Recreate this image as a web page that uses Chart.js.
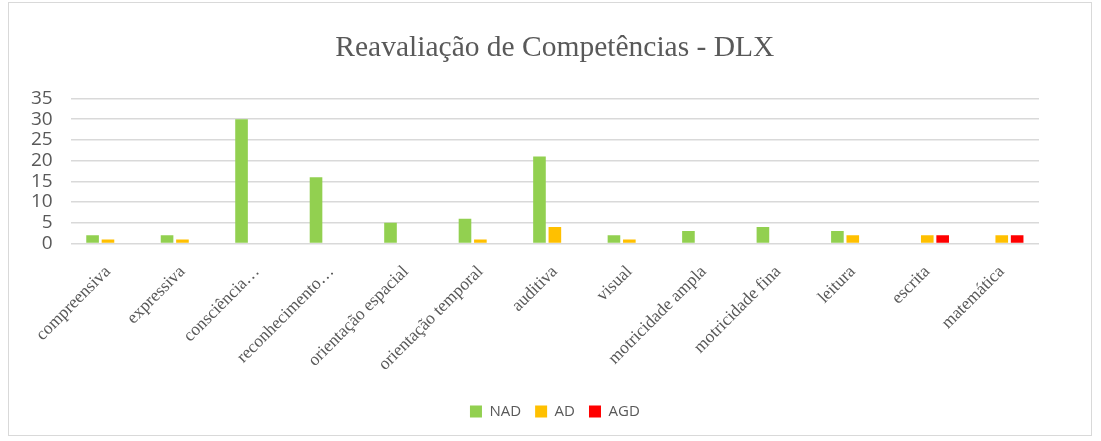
<!DOCTYPE html>
<html>
<head>
<meta charset="utf-8">
<script src="https://cdn.jsdelivr.net/npm/chart.js@4"></script>
<style>
  html, body { margin: 0; padding: 0; background: #fff; }
  #wrap { position: absolute; left: 8px; top: 2px; width: 1084px; height: 434px; border: 1px solid #d9d9d9; box-sizing: border-box; }
</style>
</head>
<body>
<div id="wrap"><canvas id="chart"></canvas></div>
<script>
const categories = ["compreensiva", "expressiva", "consciência…", "reconhecimento…", "orientação espacial",
  "orientação temporal", "auditiva", "visual", "motricidade ampla", "motricidade fina", "leitura", "escrita", "matemática"];
const nad = [2, 2, 30, 16, 5, 6, 21, 2, 3, 4, 3, 0, 0];
const ad  = [1, 1, 0, 0, 0, 1, 4, 1, 0, 0, 2, 2, 2];
const agd = [0, 0, 0, 0, 0, 0, 0, 0, 0, 0, 0, 2, 2];
const yTicks = [0, 5, 10, 15, 20, 25, 30, 35];

const ctx = document.getElementById('chart');

new Chart(ctx, {
  type: "bar",
  data: {
    labels: categories,
    datasets: [
      { label: "NAD", data: nad, backgroundColor: "#92d050" },
      { label: "AD", data: ad, backgroundColor: "#ffc000" },
      { label: "AGD", data: agd, backgroundColor: "#ff0000" }
    ]
  },
  options: {
    responsive: true,
    maintainAspectRatio: false,
    animation: false,
    datasets: { bar: { categoryPercentage: 0.62, barPercentage: 0.82 } },
    layout: { padding: { left: 4, right: 52, top: 18, bottom: 6 } },
    plugins: {
      title: {
        display: true,
        fullSize: false,
        text: "Reavaliação de Competências - DLX",
        color: "#595959",
        font: { family: "'Liberation Serif', serif", size: 29.5, weight: "normal" },
        padding: { top: 10, bottom: 32 }
      },
      legend: {
        position: "bottom",
        fullSize: false,
        labels: {
          color: "#595959",
          font: { family: "'Open Sans', sans-serif", size: 15 },
          boxWidth: 12, boxHeight: 12, padding: 14
        }
      },
      tooltip: { enabled: false }
    },
    scales: {
      x: {
        grid: { display: false },
        border: { display: false },
        afterFit: s => { s.height += 5; },
        ticks: {
          color: "#595959",
          maxRotation: 45, minRotation: 45,
          autoSkip: false,
          padding: 10,
          font: { family: "'Liberation Serif', serif", size: 17.5 }
        }
      },
      y: {
        min: 0, max: 35,
        afterBuildTicks: axis => { axis.ticks = yTicks.map(v => ({ value: v })); },
        grid: { color: "#d9d9d9", lineWidth: 1.5, drawTicks: false },
        border: { display: false },
        ticks: {
          color: "#595959",
          autoSkip: false,
          padding: 18,
          font: { family: "'Open Sans', sans-serif", size: 19 }
        }
      }
    }
  }
});
</script>
</body>
</html>
